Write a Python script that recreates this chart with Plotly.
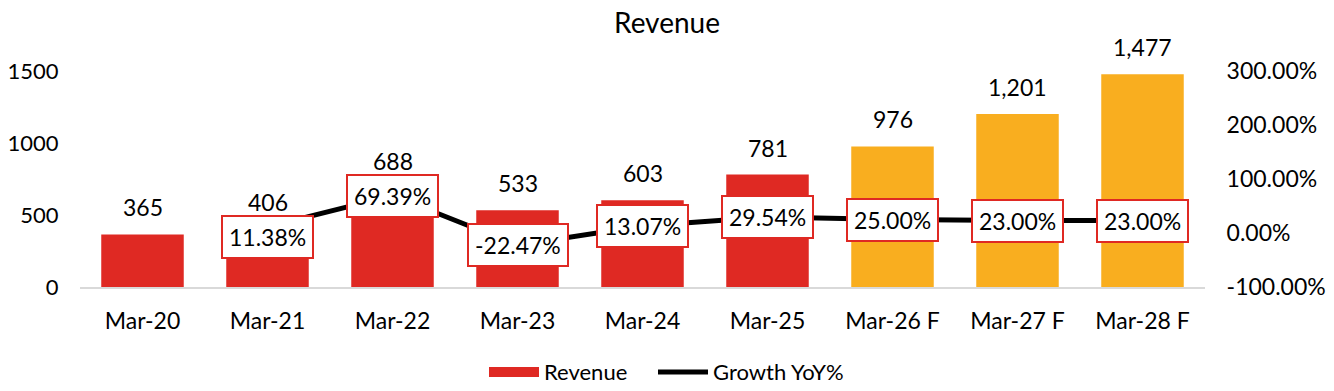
import plotly.graph_objects as go

categories = ["Mar-20", "Mar-21", "Mar-22", "Mar-23", "Mar-24", "Mar-25", "Mar-26 F", "Mar-27 F", "Mar-28 F"]
revenue = [365, 406, 688, 533, 603, 781, 976, 1201, 1477]
growth = [None, 0.1138, 0.6939, -0.2247, 0.1307, 0.2954, 0.25, 0.23, 0.23]
growth_shift = [0, -10, 0, 0, 0, 0, 0, 0, 0]
forecast = [False, False, False, False, False, False, True, True, True]
left_ticks = [0, 500, 1000, 1500]
right_ticks = [-1, 0, 1, 2, 3]
right_tick_labels = ["-100.00%", "0.00%", "100.00%", "200.00%", "300.00%"]

RED = "#DF2923"
ORANGE = "#F9AE1F"
FONT = "Lato"
FS = 23

bar_colors = [ORANGE if f else RED for f in forecast]

W, H = 1318, 375  # page body adds 8px margin on each side

fig = go.Figure()
fig.add_trace(go.Bar(
    x=categories, y=revenue, name="Revenue",
    marker=dict(color=bar_colors, line=dict(width=0)),
    width=0.66, yaxis="y", hoverinfo="skip", showlegend=False,
))
# legend entry drawn as a wide block, like the reference
fig.add_trace(go.Scatter(
    x=[None], y=[None], name="Revenue", mode="lines",
    line=dict(color=RED, width=14), yaxis="y", hoverinfo="skip", legend="legend",
))
gx = [c for c, g in zip(categories, growth) if g is not None]
gy = [g for g in growth if g is not None]
fig.add_trace(go.Scatter(
    x=gx, y=gy, name="Growth YoY%", mode="lines",
    line=dict(color="black", width=5), yaxis="y2", hoverinfo="skip", legend="legend2",
))

annotations = []
for c, v in zip(categories, revenue):
    annotations.append(dict(
        x=c, y=v, xref="x", yref="y", text=f"{v:,}", showarrow=False,
        yanchor="bottom", yshift=11, font=dict(family=FONT, size=FS, color="black"),
    ))
for c, g, s in zip(categories, growth, growth_shift):
    if g is None:
        continue
    annotations.append(dict(
        x=c, y=g, xref="x", yref="y2", text=f"{g*100:.2f}%", showarrow=False,
        yshift=s, font=dict(family=FONT, size=FS, color="black"),
        bgcolor="white", bordercolor=RED, borderwidth=2, borderpad=6,
    ))

legend_common = dict(orientation="h", xanchor="left", y=-0.394, yanchor="middle",
                     font=dict(family=FONT, size=22, color="black"), itemwidth=50,
                     bgcolor="rgba(0,0,0,0)")

fig.update_layout(
    width=W, height=H,
    margin=dict(l=72, r=121, t=63, b=96, autoexpand=False),
    paper_bgcolor="white", plot_bgcolor="white",
    font=dict(family=FONT, size=FS, color="black"),
    title=dict(text="Revenue", x=0.5, xanchor="center", y=1 - 15 / H, yanchor="middle",
               font=dict(family=FONT, size=28, color="black")),
    showlegend=True,
    legend=dict(x=(488 - 8 - 72 - 4) / 1125, **legend_common),
    legend2=dict(x=(657 - 8 - 72 - 4) / 1125, **legend_common),
    xaxis=dict(showgrid=False, showline=True, linecolor="#D9D9D9", linewidth=2,
               ticks="", ticklabelstandoff=12, tickfont=dict(family=FONT, size=FS),
               automargin=False),
    yaxis=dict(range=[0, 1500], tickvals=left_ticks, showgrid=False,
               zeroline=False, showline=False, ticks="outside", ticklen=16,
               tickcolor="rgba(0,0,0,0)", tickfont=dict(family=FONT, size=22),
               automargin=False),
    yaxis2=dict(range=[-1, 3], tickvals=right_ticks, ticktext=right_tick_labels,
                overlaying="y", side="right", showgrid=False, zeroline=False,
                showline=False, ticks="outside", ticklen=16,
                tickcolor="rgba(0,0,0,0)", tickfont=dict(family=FONT, size=FS),
                automargin=False),
    annotations=annotations,
)

fig.write_html("out.html")
